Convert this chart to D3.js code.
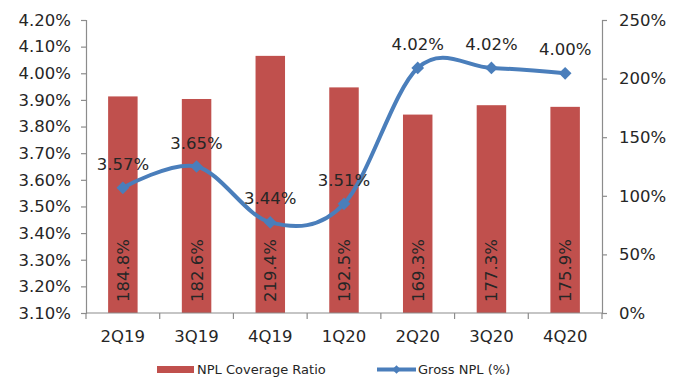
<!DOCTYPE html>
<html>
<head>
<meta charset="utf-8">
<script src="https://cdn.jsdelivr.net/npm/d3@7"></script>
<style>
  html, body { margin: 0; padding: 0; background: #fff; }
  svg { display: block; }
  text { font-family: "DejaVu Sans", Verdana, sans-serif; fill: #262626; }
</style>
</head>
<body>
<svg id="chart" width="683" height="379"></svg>
<script>
const categories = ["2Q19", "3Q19", "4Q19", "1Q20", "2Q20", "3Q20", "4Q20"];
const coverageRatio = [184.8, 182.6, 219.4, 192.5, 169.3, 177.3, 175.9];
const grossNPL = [3.57, 3.65, 3.44, 3.51, 4.02, 4.02, 4.00];
const leftTicks = [3.10, 3.20, 3.30, 3.40, 3.50, 3.60, 3.70, 3.80, 3.90, 4.00, 4.10, 4.20];
const rightTicks = [0, 50, 100, 150, 200, 250];
const seriesNames = ["NPL Coverage Ratio", "Gross NPL (%)"];

(function () {
const barColor = "#C0504D";
const lineColor = "#4A7EBB";
const axisColor = "#8C8C8C";

const svg = d3.select("#chart");
const pLeft = 86, pRight = 602, pTop = 20, pBottom = 313;

const x = d3.scaleBand().domain(categories).range([pLeft, pRight]).padding(0);
const yL = d3.scaleLinear().domain([3.10, 4.20]).range([pBottom, pTop]);
const yR = d3.scaleLinear().domain([0, 250]).range([pBottom, pTop]);
const barW = x.bandwidth() * 0.4;

// Axes
const gL = svg.append("g").attr("transform", `translate(${pLeft},0)`)
  .call(d3.axisLeft(yL).tickValues(leftTicks).tickSize(5).tickPadding(10)
    .tickFormat(d => d.toFixed(2) + "%"));
const gR = svg.append("g").attr("transform", `translate(${pRight},0)`)
  .call(d3.axisRight(yR).tickValues(rightTicks).tickSize(5).tickPadding(12)
    .tickFormat(d => d + "%"));
[gL, gR].forEach(g => {
  g.select(".domain").attr("stroke", axisColor).attr("stroke-width", 1.2);
  g.selectAll(".tick line").attr("stroke", axisColor).attr("stroke-width", 1.2);
  g.selectAll(".tick text").attr("font-size", "16.5px").attr("fill", "#262626")
    .attr("font-family", "DejaVu Sans, Verdana, sans-serif");
});

// Bars
svg.append("g").selectAll("rect").data(categories).join("rect")
  .attr("x", d => x(d) + (x.bandwidth() - barW) / 2)
  .attr("y", (d, i) => yR(coverageRatio[i]))
  .attr("width", barW)
  .attr("height", (d, i) => yR(0) - yR(coverageRatio[i]))
  .attr("fill", barColor);

// Bar labels (rotated)
svg.append("g").selectAll("text").data(categories).join("text")
  .attr("transform", d => `translate(${x(d) + x.bandwidth() / 2},${pBottom - 11}) rotate(-90)`)
  .attr("text-anchor", "start")
  .attr("dy", "0.36em")
  .attr("font-size", "16.5px")
  .attr("fill", "#1a1a1a")
  .text((d, i) => coverageRatio[i].toFixed(1) + "%");

// X axis
const gX = svg.append("g").attr("transform", `translate(0,${pBottom})`)
  .call(d3.axisBottom(x).tickSize(0).tickPadding(17));
gX.select(".domain").remove();
gX.selectAll(".tick text").attr("font-size", "16.5px").attr("fill", "#262626")
  .attr("font-family", "DejaVu Sans, Verdana, sans-serif");
svg.append("line").attr("x1", pLeft).attr("x2", pRight).attr("y1", pBottom).attr("y2", pBottom)
  .attr("stroke", axisColor).attr("stroke-width", 1.2);
const bounds = categories.map(c => x(c)).concat([pRight]);
svg.append("g").selectAll("line").data(bounds).join("line")
  .attr("x1", d => d).attr("x2", d => d)
  .attr("y1", pBottom).attr("y2", pBottom + 6)
  .attr("stroke", axisColor).attr("stroke-width", 1.2);

// Line
const pts = categories.map((c, i) => [x(c) + x.bandwidth() / 2, yL(grossNPL[i])]);
svg.append("path")
  .attr("d", d3.line().curve(d3.curveCardinal.tension(0))(pts))
  .attr("fill", "none")
  .attr("stroke", lineColor)
  .attr("stroke-width", 4)
  .attr("stroke-linecap", "round");
svg.append("g").selectAll("path").data(pts).join("path")
  .attr("transform", d => `translate(${d[0]},${d[1]}) rotate(45)`)
  .attr("d", "M-4.5,-4.5H4.5V4.5H-4.5Z")
  .attr("fill", lineColor);

// Line labels
svg.append("g").selectAll("text").data(pts).join("text")
  .attr("x", d => d[0])
  .attr("y", d => d[1] - 18)
  .attr("text-anchor", "middle")
  .attr("font-size", "16.5px")
  .attr("fill", "#1a1a1a")
  .text((d, i) => grossNPL[i].toFixed(2) + "%");

// Legend
const lg = svg.append("g");
lg.append("rect").attr("x", 157).attr("y", 366).attr("width", 37).attr("height", 7).attr("fill", barColor);
lg.append("text").attr("x", 197).attr("y", 374).attr("font-size", "13px").attr("fill", "#262626").text(seriesNames[0]);
lg.append("line").attr("x1", 377).attr("x2", 416).attr("y1", 369.5).attr("y2", 369.5)
  .attr("stroke", lineColor).attr("stroke-width", 4);
lg.append("path").attr("transform", "translate(396.5,369.5) rotate(45)").attr("d", "M-3,-3H3V3H-3Z").attr("fill", lineColor);
lg.append("text").attr("x", 418).attr("y", 374).attr("font-size", "13px").attr("fill", "#262626").text(seriesNames[1]);
})();
</script>
</body>
</html>
